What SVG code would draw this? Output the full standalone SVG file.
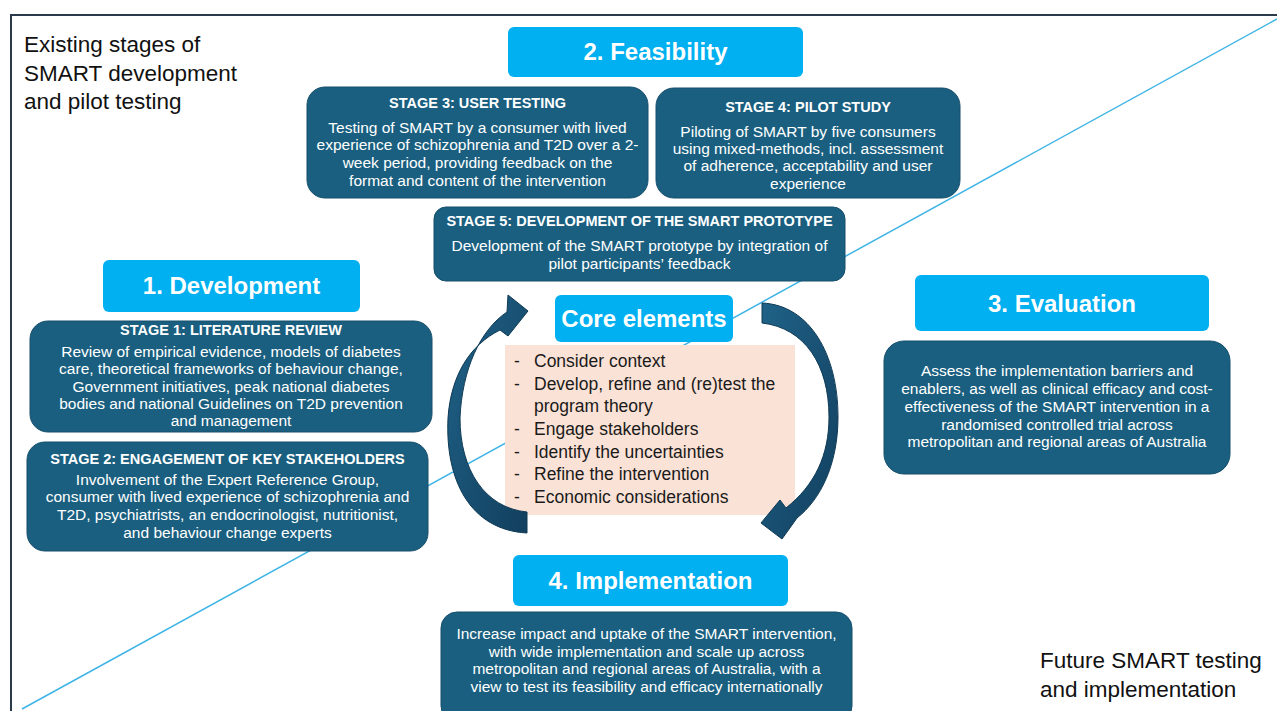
<svg xmlns="http://www.w3.org/2000/svg" width="1277" height="711" viewBox="0 0 1277 711">
  <defs>
    <style>
      .frame { fill: none; stroke: #2b3a4a; stroke-width: 2; }
      .diag { stroke: #3fb4e6; stroke-width: 1.5; fill: none; }
      .head { fill: #00b0f0; }
      .stage { fill: #1a5f80; stroke: #164f6b; stroke-width: 1; }
      .core { fill: #fbe2d6; }
      .ttl { font-family: "Liberation Sans", Arial, sans-serif; font-weight: bold; font-size: 24px; fill: #ffffff; text-anchor: middle; }
      .sh { font-family: "Liberation Sans", Arial, sans-serif; font-weight: bold; font-size: 14.5px; fill: #ffffff; text-anchor: middle; }
      .sb { font-family: "Liberation Sans", Arial, sans-serif; font-size: 15.5px; fill: #ffffff; text-anchor: middle; }
      .li { font-family: "Liberation Sans", Arial, sans-serif; font-size: 17.5px; fill: #1a1a1a; }
      .note { font-family: "Liberation Sans", Arial, sans-serif; font-size: 22.5px; fill: #111111; }
      .cyc { fill: url(#cycGrad); stroke: #0f3a55; stroke-width: 1; }
    </style>
    <linearGradient id="cycGrad" x1="0" y1="0" x2="1" y2="1">
      <stop offset="0" stop-color="#1f6288"/>
      <stop offset="1" stop-color="#123f5e"/>
    </linearGradient>
  </defs>

  <rect width="1277" height="711" fill="#ffffff"/>

  <!-- outer frame and diagonal split -->
  <g id="frame">
    <path class="frame" d="M11,711 V15 H1277"/>
    <line class="diag" x1="22" y1="709" x2="1277" y2="19"/>
  </g>

  <!-- corner captions -->
  <g id="caption-existing">
    <text class="note" x="24" y="52">Existing stages of</text>
    <text class="note" x="24" y="81">SMART development</text>
    <text class="note" x="24" y="109">and pilot testing</text>
  </g>
  <g id="caption-future">
    <text class="note" x="1040" y="668">Future SMART testing</text>
    <text class="note" x="1040" y="697">and implementation</text>
  </g>

  <!-- phase 2: feasibility -->
  <g id="feasibility">
    <rect class="head" x="508" y="27" width="295" height="50" rx="6"/>
    <text class="ttl" x="655.5" y="60">2. Feasibility</text>
  </g>

  <g id="stage3">
    <rect class="stage" x="307" y="87" width="341" height="111" rx="18"/>
    <text class="sh" x="477.5" y="108">STAGE 3: USER TESTING</text>
    <text class="sb" x="477.5" y="133">Testing of SMART by a consumer with lived</text>
    <text class="sb" x="477.5" y="150">experience of schizophrenia and T2D over a 2-</text>
    <text class="sb" x="477.5" y="168">week period, providing feedback on the</text>
    <text class="sb" x="477.5" y="186">format and content of the intervention</text>
  </g>

  <g id="stage4">
    <rect class="stage" x="656" y="88" width="304" height="110" rx="18"/>
    <text class="sh" x="808" y="112">STAGE 4: PILOT STUDY</text>
    <text class="sb" x="808" y="137">Piloting of SMART by five consumers</text>
    <text class="sb" x="808" y="154">using mixed-methods, incl. assessment</text>
    <text class="sb" x="808" y="171">of adherence, acceptability and user</text>
    <text class="sb" x="808" y="189">experience</text>
  </g>

  <g id="stage5">
    <rect class="stage" x="434" y="207" width="411" height="74" rx="12"/>
    <text class="sh" x="639.5" y="226">STAGE 5: DEVELOPMENT OF THE SMART PROTOTYPE</text>
    <text class="sb" x="639.5" y="251">Development of the SMART prototype by integration of</text>
    <text class="sb" x="639.5" y="269">pilot participants’ feedback</text>
  </g>

  <!-- phase 1: development -->
  <g id="development">
    <rect class="head" x="103" y="260" width="257" height="52" rx="6"/>
    <text class="ttl" x="231.5" y="294">1. Development</text>
  </g>

  <g id="stage1">
    <rect class="stage" x="30" y="321" width="402" height="111" rx="18"/>
    <text class="sh" x="231" y="335">STAGE 1: LITERATURE REVIEW</text>
    <text class="sb" x="231" y="357">Review of empirical evidence, models of diabetes</text>
    <text class="sb" x="231" y="374">care, theoretical frameworks of behaviour change,</text>
    <text class="sb" x="231" y="392">Government initiatives, peak national diabetes</text>
    <text class="sb" x="231" y="409">bodies and national Guidelines on T2D prevention</text>
    <text class="sb" x="231" y="426">and management</text>
  </g>

  <g id="stage2">
    <rect class="stage" x="27" y="442" width="401" height="109" rx="18"/>
    <text class="sh" x="227.5" y="464">STAGE 2: ENGAGEMENT OF KEY STAKEHOLDERS</text>
    <text class="sb" x="227.5" y="485">Involvement of the Expert Reference Group,</text>
    <text class="sb" x="227.5" y="502">consumer with lived experience of schizophrenia and</text>
    <text class="sb" x="227.5" y="520">T2D, psychiatrists, an endocrinologist, nutritionist,</text>
    <text class="sb" x="227.5" y="538">and behaviour change experts</text>
  </g>

  <!-- core elements -->
  <g id="core-elements">
    <rect class="core" x="505" y="345" width="290" height="170"/>
    <rect class="head" x="555" y="295" width="178" height="47" rx="6"/>
    <text class="ttl" x="644" y="327">Core elements</text>
    <text class="li" x="514" y="367">-</text><text class="li" x="534" y="367">Consider context</text>
    <text class="li" x="514" y="390">-</text><text class="li" x="534" y="390">Develop, refine and (re)test the</text>
    <text class="li" x="534" y="412">program theory</text>
    <text class="li" x="514" y="435">-</text><text class="li" x="534" y="435">Engage stakeholders</text>
    <text class="li" x="514" y="458">-</text><text class="li" x="534" y="458">Identify the uncertainties</text>
    <text class="li" x="514" y="480">-</text><text class="li" x="534" y="480">Refine the intervention</text>
    <text class="li" x="514" y="503">-</text><text class="li" x="534" y="503">Economic considerations</text>
  </g>

  <!-- cycle arrows around the core elements -->
  <g id="connectors">
    <path class="cyc" d="M527,533 C470,530 445,480 448,418 C451,375 470,345 500,330 L508,336 L528,311 L508,295 L507,312 C480,330 462,370 460,418 C460,470 485,508 527,512 Z"/>
    <path class="cyc" d="M762,303 C810,305 838,355 838,417 C838,465 820,500 797,518 L782,539 L761,523 L780,500 L786,508 C815,485 829,455 829,417 C829,365 805,328 762,323 Z"/>
  </g>

  <!-- phase 3: evaluation -->
  <g id="evaluation">
    <rect class="head" x="915" y="275" width="294" height="56" rx="6"/>
    <text class="ttl" x="1062" y="312">3. Evaluation</text>
  </g>
  <g id="evaluation-detail">
    <rect class="stage" x="884" y="341" width="346" height="133" rx="20"/>
    <text class="sb" x="1057" y="376">Assess the implementation barriers and</text>
    <text class="sb" x="1057" y="394">enablers, as well as clinical efficacy and cost-</text>
    <text class="sb" x="1057" y="412">effectiveness of the SMART intervention in a</text>
    <text class="sb" x="1057" y="430">randomised controlled trial across</text>
    <text class="sb" x="1057" y="447">metropolitan and regional areas of Australia</text>
  </g>

  <!-- phase 4: implementation -->
  <g id="implementation">
    <rect class="head" x="513" y="555" width="275" height="51" rx="6"/>
    <text class="ttl" x="650.5" y="589">4. Implementation</text>
  </g>
  <g id="implementation-detail">
    <rect class="stage" x="441" y="612" width="411" height="110" rx="16"/>
    <text class="sb" x="646.5" y="639">Increase impact and uptake of the SMART intervention,</text>
    <text class="sb" x="646.5" y="657">with wide implementation and scale up across</text>
    <text class="sb" x="646.5" y="674">metropolitan and regional areas of Australia, with a</text>
    <text class="sb" x="646.5" y="692">view to test  its feasibility and efficacy internationally</text>
  </g>
</svg>
